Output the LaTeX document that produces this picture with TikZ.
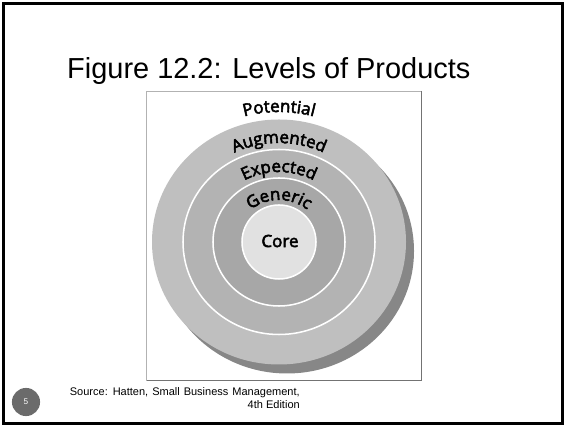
\documentclass[tikz,border=0pt]{standalone}
\usepackage{fontspec}
\setmainfont{Liberation Sans}
\newfontfamily\ringfont[FakeBold=3]{Open Sans}
\usetikzlibrary{decorations.text}

\definecolor{ringouter}{HTML}{BFBFBF}
\definecolor{ringmid}{HTML}{B3B3B3}
\definecolor{ringinner}{HTML}{A7A7A7}
\definecolor{corefill}{HTML}{E1E1E1}
\definecolor{ringshade}{HTML}{878787}
\definecolor{pagegray}{HTML}{6B6B6B}

\begin{document}
\begin{tikzpicture}[x=0.03cm, y=0.03cm,
    ring/.style={draw=white, line width=1.3pt},
    labelfont/.style={font=\ringfont\fontsize{14.5}{16}\selectfont},
    arclabel/.style={decorate, decoration={text along path, text align=center,
        text={|\ringfont\fontsize{14.5}{16}\selectfont|#1}}}]

\useasboundingbox (0,0) rectangle (564,426);

% slide frame and heading
\draw[line width=2.6pt] (3.5,2.5) rectangle (562.5,422.5);
\node[anchor=base west, inner sep=0, font=\fontsize{24.7}{28}\selectfont] (title) at (67,347) {Figure 12.2: Levels of Products};

% picture box
\draw[gray!60, line width=0.8pt] (146.5,335) rectangle (421.5,46);
\draw[gray!90!black, line width=0.8pt] (421.5,335) -- (421.5,46) -- (146.5,46);

% the rings
\coordinate (c) at (279,184);
\coordinate (shade) at (287,175);
\fill[ringshade] (shade) ellipse [x radius=127, y radius=122.5];
\fill[ringouter] (c) ellipse [x radius=127, y radius=122.5];
\filldraw[fill=ringmid, ring] (c) ellipse [x radius=96, y radius=92.5];
\filldraw[fill=ringinner, ring] (c) ellipse [x radius=66, y radius=64];
\filldraw[fill=corefill, ring] (c) ellipse [x radius=37, y radius=37];
\node[labelfont] (core) at (280,185) {Core};

% curved labels
\path[arclabel=Potential, shift={(279,184)}] (170:134 and 130) arc [start angle=170, end angle=10, x radius=134, y radius=130];
\path[arclabel=Augmented, shift={(279,184)}] (170:103 and 99) arc [start angle=170, end angle=10, x radius=103, y radius=99];
\path[arclabel=Expected, shift={(279,184)}] (170:73 and 70) arc [start angle=170, end angle=10, x radius=73, y radius=70];
\path[arclabel=Generic, shift={(279,184)}] (170:44 and 42) arc [start angle=170, end angle=10, x radius=44, y radius=42];

% footer
\node[anchor=north east, align=right, inner sep=0, font=\fontsize{9.4}{11.5}\selectfont] (source) at (300,39) {\spaceskip=0.36em\relax Source: Hatten, Small Business Management,\\4th Edition};
\node[circle, fill=pagegray, minimum size=24pt, inner sep=0, text=white, font=\fontsize{7}{8}\selectfont] (page) at (26,24) {5};

\end{tikzpicture}
\end{document}
